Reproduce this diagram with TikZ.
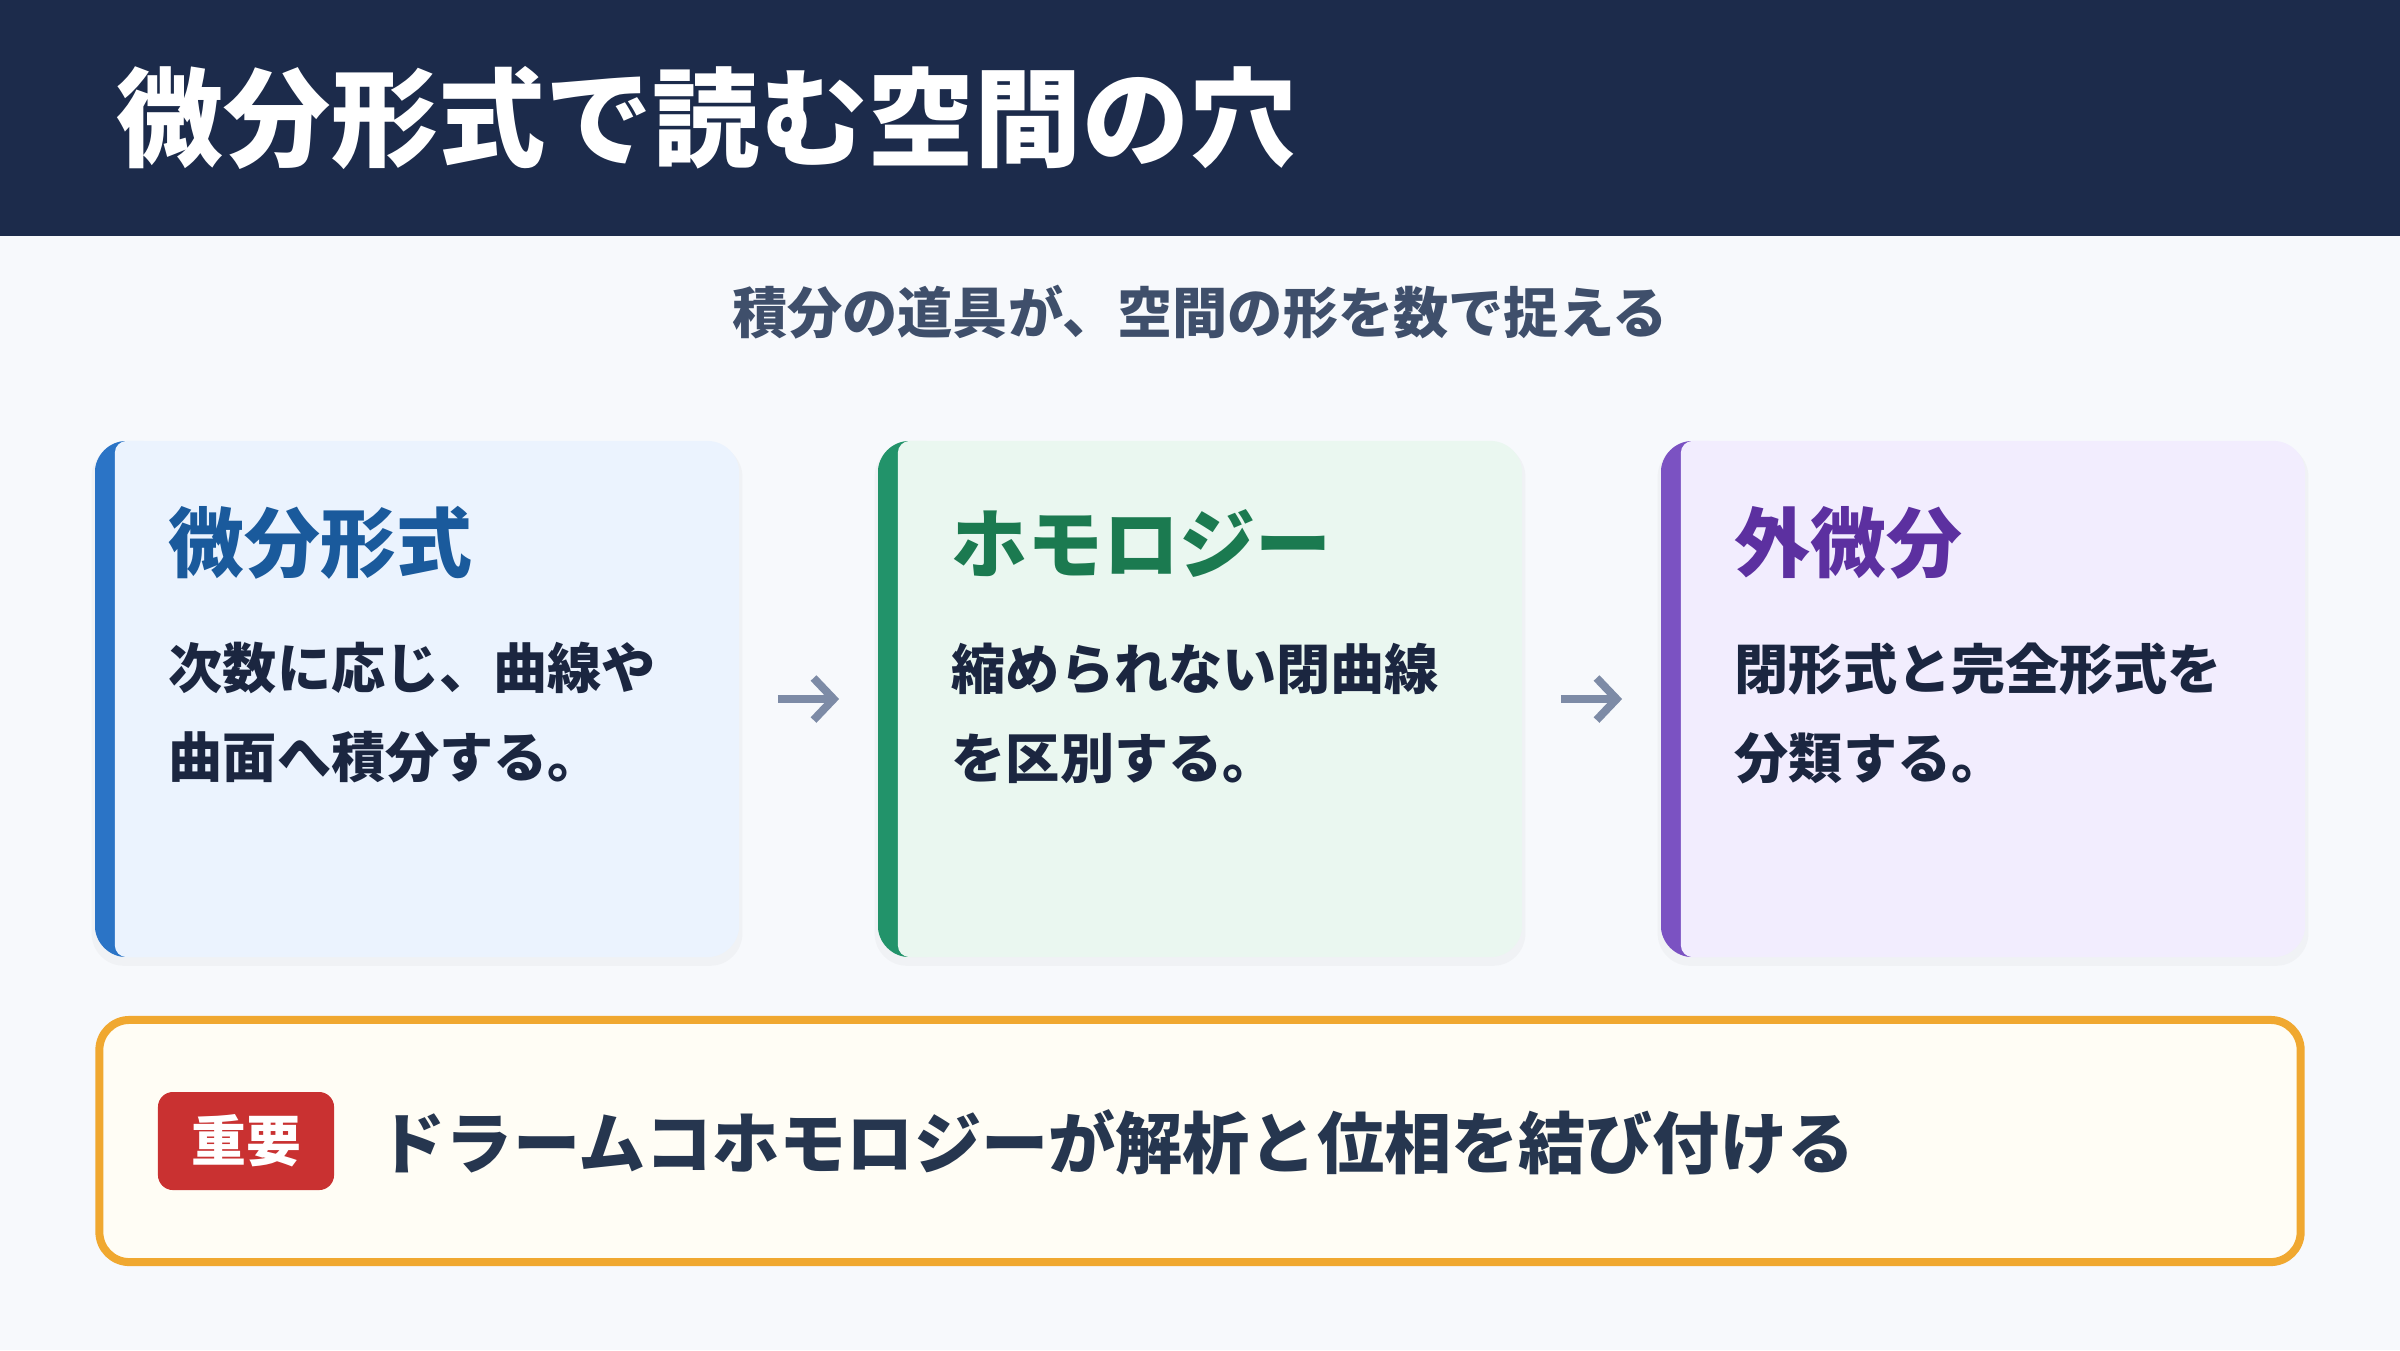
\documentclass[tikz,border=0pt]{standalone}
\usepackage{fontspec}
\setmainfont{Noto Sans CJK JP}
\usetikzlibrary{arrows.meta,shadows}

\definecolor{pagebg}{HTML}{F7F9FC}
\definecolor{headbg}{HTML}{1C2B4B}
\definecolor{subgray}{HTML}{3F4F6B}
\definecolor{bodyink}{HTML}{1B2640}
\definecolor{arrowgray}{HTML}{7D8BA6}
\definecolor{blueFill}{HTML}{EBF3FE}
\definecolor{blueBar}{HTML}{2B74C6}
\definecolor{blueInk}{HTML}{1A5A9C}
\definecolor{greenFill}{HTML}{EAF7F0}
\definecolor{greenBar}{HTML}{22936A}
\definecolor{greenInk}{HTML}{1B7A50}
\definecolor{violetFill}{HTML}{F2EDFE}
\definecolor{violetBar}{HTML}{7B52C2}
\definecolor{violetInk}{HTML}{5C30A0}
\definecolor{noteBorder}{HTML}{F0A830}
\definecolor{noteFill}{HTML}{FFFDF5}
\definecolor{badgeRed}{HTML}{C93131}
\definecolor{noteInk}{HTML}{26364F}

\begin{document}
\begin{tikzpicture}[
    x = 0.01cm, y = -0.01cm,
    card/.style 2 args = {rounded corners = 0.32cm, fill = #1,
        minimum width = 6.44cm, minimum height = 5.16cm, inner sep = 0pt,
        drop shadow = {shadow xshift = 0pt, shadow yshift = -0.06cm,
            shadow scale = 1.01, opacity = 0.05},
        path picture = {
            \fill[#2, sharp corners] (path picture bounding box.north west)
                rectangle ([xshift = 0.4cm]path picture bounding box.south west);
            \fill[#1, rounded corners = 0.12cm]
                ([xshift = 0.2cm]path picture bounding box.north west)
                rectangle ([xshift = 0.6cm]path picture bounding box.south west);}},
    cardhead/.style = {anchor = west, inner sep = 0pt, text = #1,
        font = \fontsize{21.6}{26}\selectfont\bfseries},
    cardbody/.style = {anchor = west, inner sep = 0pt, align = left, text = bodyink,
        font = \fontsize{15.4}{25.3}\selectfont\bfseries},
    flow/.style = {draw = arrowgray, line width = 0.08cm,
        -{Straight Barb[length = 0.2cm, width = 0.42cm]},
        shorten < = 0.38cm, shorten > = 0.38cm}]

\useasboundingbox (0,0) rectangle (2400,1350);
\fill[pagebg] (0,0) rectangle (2400,1350);
\fill[headbg] (0,0) rectangle (2400,236);

\node[anchor = west, inner sep = 0pt, text = white,
      font = \fontsize{30.5}{36}\selectfont\bfseries] (title) at (116,118)
      {微分形式で読む空間の穴};
\node[text = subgray, font = \fontsize{15.7}{19}\selectfont\bfseries] (subtitle)
      at (1200,312) {積分の道具が、空間の形を数で捉える};

% three cards
\node[card = {blueFill}{blueBar}] (c1) at (417,699) {};
\node[card = {greenFill}{greenBar}] (c2) at (1200,699) {};
\node[card = {violetFill}{violetBar}] (c3) at (1983,699) {};

\node[cardhead = blueInk] (h1) at (168,543) {微分形式};
\node[cardhead = greenInk] (h2) at (951,543) {ホモロジー};
\node[cardhead = violetInk] (h3) at (1734,543) {外微分};

\node[cardbody] (b1) at (168,713) {次数に応じ、曲線や\\曲面へ積分する。};
\node[cardbody] (b2) at (951,713) {縮められない閉曲線\\を区別する。};
\node[cardbody] (b3) at (1734,713) {閉形式と完全形式を\\分類する。};

\draw[flow] (c1.east) -- (c2.west);
\draw[flow] (c2.east) -- (c3.west);

% key point
\node[draw = noteBorder, fill = noteFill, line width = 0.08cm,
      rounded corners = 0.3cm, minimum width = 22cm, minimum height = 2.42cm]
      (note) at (1200,1141) {};
\node[fill = badgeRed, rounded corners = 0.15cm, minimum width = 1.76cm,
      minimum height = 0.98cm, inner sep = 0pt, text = white,
      font = \fontsize{15.6}{19}\selectfont\bfseries] (badge) at (246,1141) {重要};
\node[anchor = west, inner sep = 0pt, text = noteInk,
      font = \fontsize{19.1}{23}\selectfont\bfseries] (notetext) at (378,1142)
      {ドラームコホモロジーが解析と位相を結び付ける};
\end{tikzpicture}
\end{document}
